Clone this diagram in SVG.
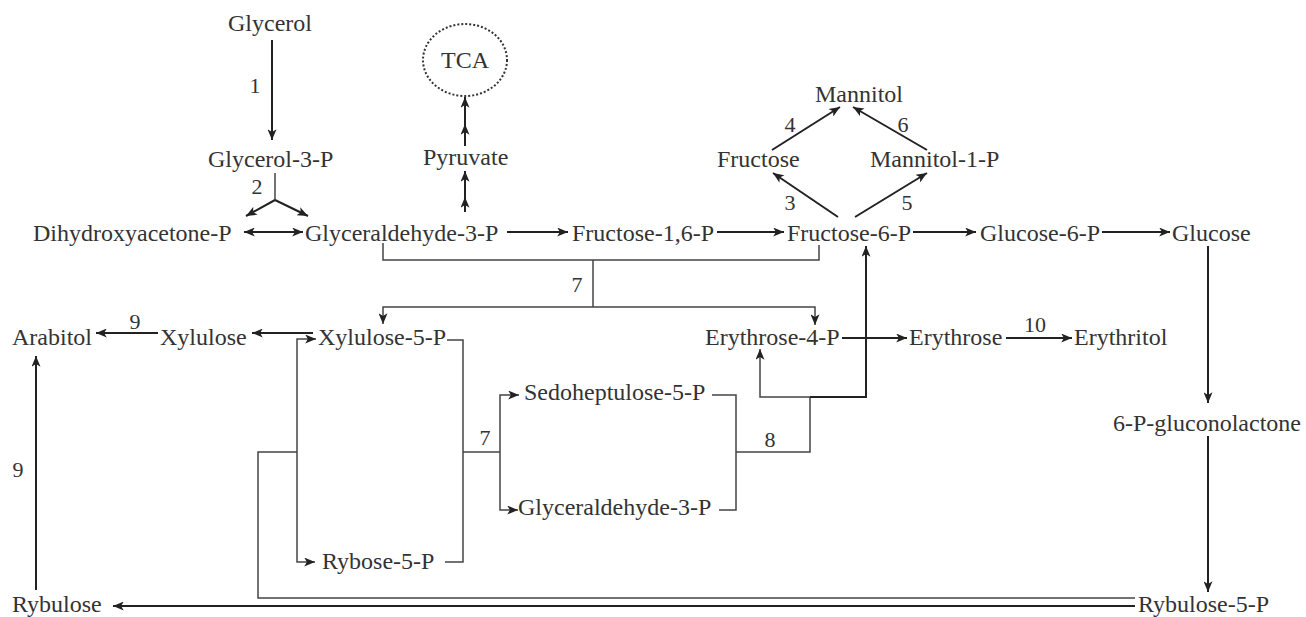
<svg xmlns="http://www.w3.org/2000/svg" width="1306" height="617" viewBox="0 0 1306 617" font-family="'Liberation Serif', 'Times New Roman', 'DejaVu Serif', serif">
<style>
text{font-family:'Liberation Serif','Times New Roman','DejaVu Serif',serif;font-size:24px;fill:#333}
.lbl{font-size:22px;text-anchor:middle}
.a{fill:none;stroke:#222;stroke-width:2;marker-end:url(#ah)}
.l{fill:none;stroke:#444;stroke-width:1.5}
.la{fill:none;stroke:#444;stroke-width:1.5;marker-end:url(#ah)}
</style>
<defs>
<marker id="ah" viewBox="0 0 12 10" refX="12" refY="5" markerWidth="12" markerHeight="9" markerUnits="userSpaceOnUse" orient="auto-start-reverse">
<path d="M0,0 L12,5 L0,10 L3,5 z" fill="#222"/>
</marker>
</defs>
<rect width="1306" height="617" fill="#fff"/>
<g id="connectors">
<path class="a" d="M272,40 L272,140"/>
<path class="l" d="M275,173 L275,200"/>
<path class="a" d="M275,200 L246,216"/>
<path class="a" d="M275,200 L308,216"/>
<path class="a" d="M275,232 L244,232"/>
<path class="a" d="M272,232 L303,232"/>
<path class="a" d="M465,212 L465,197 L465,171" style="marker-mid:url(#ah)"/>
<path class="a" d="M465,146 L465,124 L465,97" style="marker-mid:url(#ah)"/>
<path class="a" d="M507,232 L568,232"/>
<path class="a" d="M717,232 L784,232"/>
<path class="a" d="M913,232 L976,232"/>
<path class="a" d="M1102,232 L1170,232"/>
<path class="a" d="M838,217 L773,173"/>
<path class="a" d="M855,217 L927,173"/>
<path class="a" d="M772,150 L840,107"/>
<path class="a" d="M927,150 L853,107"/>
<path class="a" d="M1208,246 L1208,403"/>
<path class="a" d="M1208,436 L1208,592"/>
<path class="l" d="M383,243 L383,260 L819,260 L819,245"/>
<path class="l" d="M593,260 L593,307"/>
<path class="la" d="M593,307 L383,307 L383,324"/>
<path class="la" d="M593,307 L815,307 L815,325"/>
<path class="a" d="M158,333 L96,333"/>
<path class="a" d="M313,333 L252,333"/>
<path class="la" d="M297,452 L297,339 L316,339"/>
<path class="la" d="M297,452 L297,562 L315,562"/>
<path class="l" d="M447,340 L463,340 L463,562 L445,562"/>
<path class="l" d="M463,452 L500,452"/>
<path class="la" d="M500,452 L500,395 L519,395"/>
<path class="la" d="M500,452 L500,510 L518,510"/>
<path class="l" d="M712,395 L736,395 L736,510 L719,510"/>
<path class="l" d="M736,452 L810,452 L810,397"/>
<path class="la" d="M810,397 L760,397 L760,349"/>
<path class="a" d="M810,397 L866,397 L866,246"/>
<path class="a" d="M842,338 L907,338"/>
<path class="a" d="M1006,338 L1072,338"/>
<path class="l" d="M297,452 L258,452 L258,598 L1135,598"/>
<path class="a" d="M1135,606 L113,606"/>
<path class="a" d="M36,590 L36,356"/>
</g>
<g id="glycerol"><text x="228" y="31">Glycerol</text></g>
<g id="glycerol-3-p"><text x="208" y="167">Glycerol-3-P</text></g>
<g id="dihydroxyacetone-p"><text x="33" y="241">Dihydroxyacetone-P</text></g>
<g id="glyceraldehyde-3-p"><text x="305" y="241">Glyceraldehyde-3-P</text></g>
<g id="pyruvate"><text x="423" y="165">Pyruvate</text></g>
<g id="tca"><ellipse cx="465" cy="60" rx="42" ry="36" fill="none" stroke="#333" stroke-width="2" stroke-dasharray="2 2"/><text x="465" y="68" text-anchor="middle">TCA</text></g>
<g id="fructose-1-6-p"><text x="572" y="241">Fructose-1,6-P</text></g>
<g id="fructose-6-p"><text x="787" y="241">Fructose-6-P</text></g>
<g id="glucose-6-p"><text x="980" y="241">Glucose-6-P</text></g>
<g id="glucose"><text x="1172" y="241">Glucose</text></g>
<g id="mannitol"><text x="815" y="102">Mannitol</text></g>
<g id="fructose"><text x="717" y="167">Fructose</text></g>
<g id="mannitol-1-p"><text x="870" y="167">Mannitol-1-P</text></g>
<g id="arabitol"><text x="12" y="345">Arabitol</text></g>
<g id="xylulose"><text x="160" y="345">Xylulose</text></g>
<g id="xylulose-5-p"><text x="318" y="345">Xylulose-5-P</text></g>
<g id="erythrose-4-p"><text x="705" y="345">Erythrose-4-P</text></g>
<g id="erythrose"><text x="909" y="345">Erythrose</text></g>
<g id="erythritol"><text x="1074" y="345">Erythritol</text></g>
<g id="sedoheptulose-5-p"><text x="524" y="400">Sedoheptulose-5-P</text></g>
<g id="glyceraldehyde-3-p-2"><text x="518" y="515">Glyceraldehyde-3-P</text></g>
<g id="gluconolactone"><text x="1113" y="431">6-P-gluconolactone</text></g>
<g id="rybose-5-p"><text x="322" y="569">Rybose-5-P</text></g>
<g id="rybulose"><text x="12" y="612">Rybulose</text></g>
<g id="rybulose-5-p"><text x="1138" y="612">Rybulose-5-P</text></g>
<g id="labels">
<text class="lbl" x="255" y="93">1</text>
<text class="lbl" x="257" y="194">2</text>
<text class="lbl" x="790" y="210">3</text>
<text class="lbl" x="790" y="132">4</text>
<text class="lbl" x="907" y="210">5</text>
<text class="lbl" x="903" y="132">6</text>
<text class="lbl" x="577" y="292">7</text>
<text class="lbl" x="485" y="445">7</text>
<text class="lbl" x="770" y="447">8</text>
<text class="lbl" x="135" y="329">9</text>
<text class="lbl" x="18" y="477">9</text>
<text class="lbl" x="1035" y="332">10</text>
</g>
</svg>
